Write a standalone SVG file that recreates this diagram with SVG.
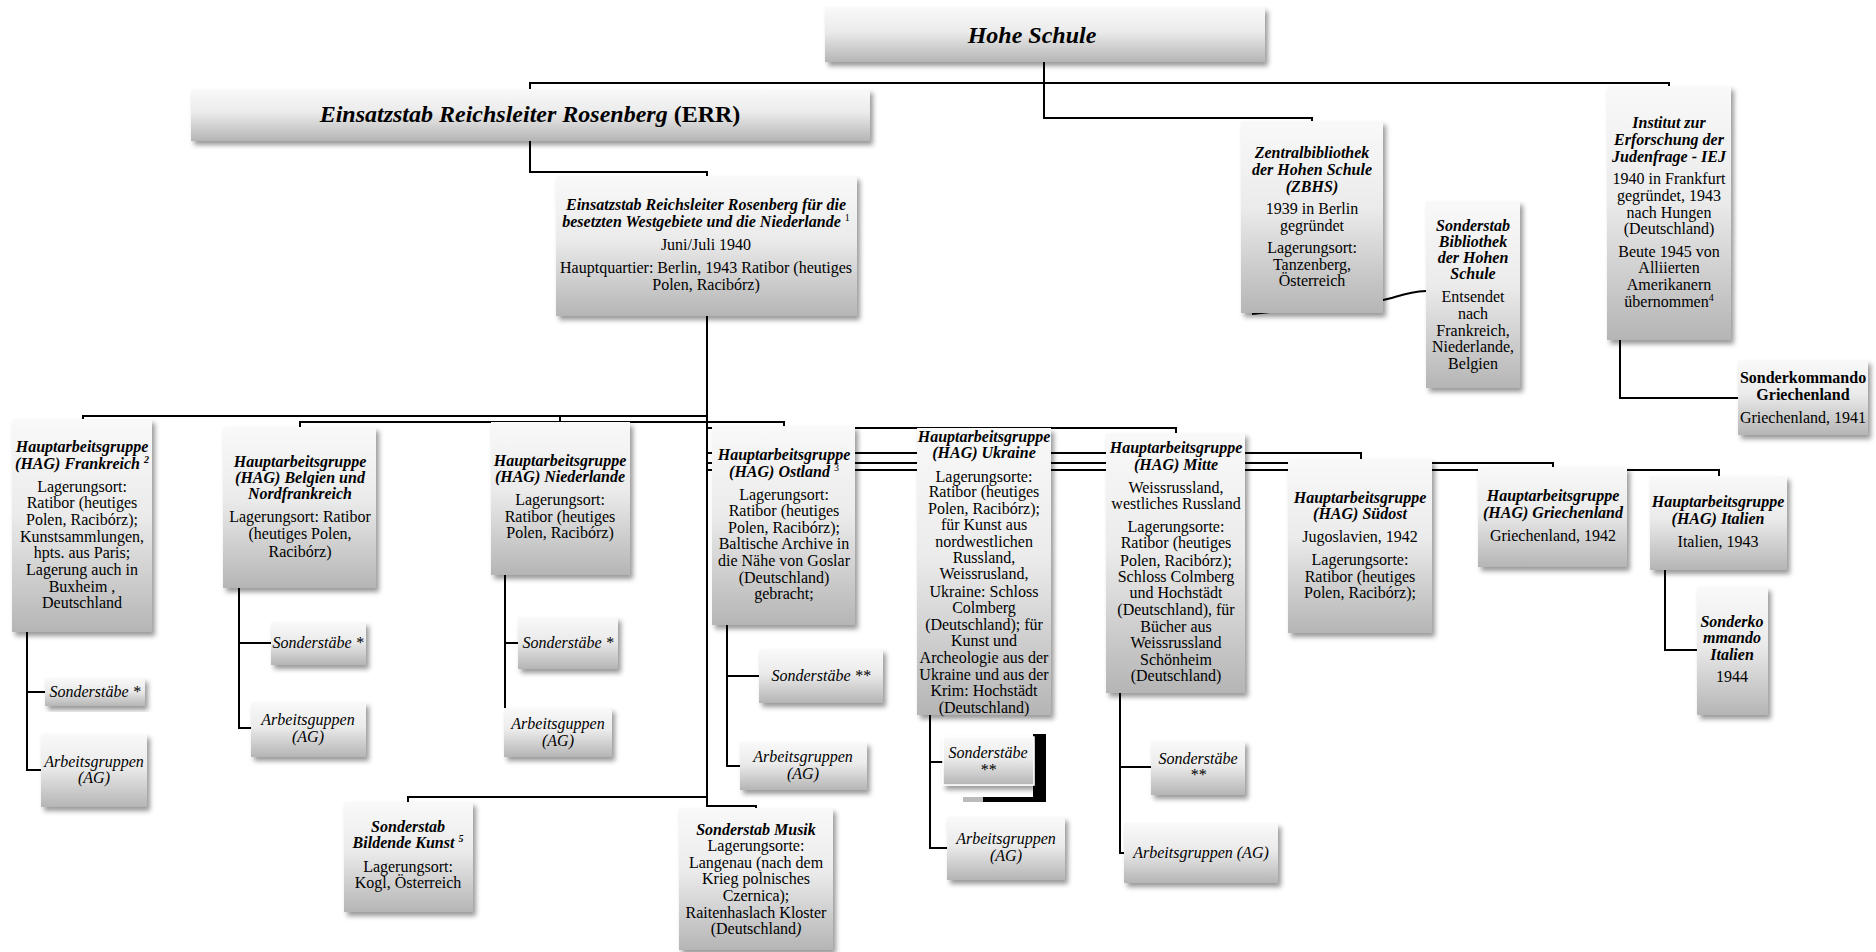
<svg xmlns="http://www.w3.org/2000/svg" width="1876" height="952" viewBox="0 0 1876 952">
<defs>
<linearGradient id="g" x1="0" y1="0" x2="0" y2="1">
<stop offset="0" stop-color="#f9f9f9"/>
<stop offset="0.45" stop-color="#ebebeb"/>
<stop offset="1" stop-color="#b5b5b5"/>
</linearGradient>
<filter id="sh" x="-10%" y="-10%" width="125%" height="130%">
<feDropShadow dx="3" dy="4" stdDeviation="2.5" flood-color="#000" flood-opacity="0.4"/>
</filter>
</defs>
<style>
rect.b{fill:url(#g);filter:url(#sh);}
text{font-family:"Liberation Serif","Times New Roman",serif;font-size:16px;text-anchor:middle;fill:#000;}
.t{font-weight:bold;font-style:italic;}
.bd{font-weight:bold;}
.i{font-style:italic;}
.sup{font-size:10px;}
#connectors path{fill:none;stroke:#000;stroke-width:2;}
</style>
<rect width="1876" height="952" fill="#fff"/>
<g id="connectors">
<path d="M1044,62 V118 H1312 V121"/>
<path d="M530,89 V83 H1669 V86"/>
<path d="M530,141 V172 H707 V176"/>
<path d="M707,316 V806 H756 V808"/>
<path d="M707,797 H408 V802"/>
<path d="M707,416 H83 V419"/>
<path d="M560,416 V422"/>
<path d="M784,426 V422 H300 V427"/>
<path d="M707,428 H1176 V433"/>
<path d="M707,453 H1361 V459"/>
<path d="M707,463 H1553 V467"/>
<path d="M707,470 H1719 V476"/>
<path d="M1426,291 C1405,292 1395,298 1383,300 L1270,312 L1252,314"/>
<path d="M1620,340 V398 H1738"/>
<path d="M1665,570 V650 H1697"/>
<path d="M27,632 V770 H41 M27,692 H45"/>
<path d="M239,588 V728 H251 M239,643 H271"/>
<path d="M505,575 V713 M505,643 H518"/>
<path d="M727,625 V766 H740 M727,676 H759"/>
<path d="M930,715 V848 H947 M930,762 H943"/>
<path d="M1120,693 V853 H1124 M1120,767 H1151"/>
</g>

<g id="hohe-schule">
<rect class="b" x="825" y="7" width="440" height="55"/>
<text class="t" x="1032" y="43" style="font-size:24px">Hohe Schule</text>
</g>

<g id="err">
<rect class="b" x="191" y="89" width="679" height="52"/>
<text x="530" y="122" style="font-size:24px"><tspan class="t">Einsatzstab Reichsleiter Rosenberg</tspan> <tspan class="bd">(ERR)</tspan></text>
</g>

<g id="err-west">
<rect class="b" x="556" y="176" width="301" height="140"/>
<text class="t" x="706" y="210">Einsatzstab Reichsleiter Rosenberg für die</text>
<text x="706" y="227"><tspan class="t">besetzten Westgebiete und die Niederlande</tspan> <tspan class="sup" dy="-6">1</tspan></text>
<text x="706" y="250">Juni/Juli 1940</text>
<text x="706" y="273">Hauptquartier: Berlin, 1943 Ratibor (heutiges</text>
<text x="706" y="290">Polen, Racibórz)</text>
</g>

<g id="zbhs">
<rect class="b" x="1241" y="121" width="142" height="192"/>
<text class="t" x="1312" y="158">Zentralbibliothek</text>
<text class="t" x="1312" y="175">der Hohen Schule</text>
<text class="t" x="1312" y="192">(ZBHS)</text>
<text x="1312" y="214">1939 in Berlin</text>
<text x="1312" y="231">gegründet</text>
<text x="1312" y="253">Lagerungsort:</text>
<text x="1312" y="270">Tanzenberg,</text>
<text x="1312" y="286">Österreich</text>
</g>

<g id="sonderstab-bibliothek">
<rect class="b" x="1426" y="201" width="94" height="187"/>
<text class="t" x="1473" y="231">Sonderstab</text>
<text class="t" x="1473" y="247">Bibliothek</text>
<text class="t" x="1473" y="263">der Hohen</text>
<text class="t" x="1473" y="279">Schule</text>
<text x="1473" y="302">Entsendet</text>
<text x="1473" y="319">nach</text>
<text x="1473" y="336">Frankreich,</text>
<text x="1473" y="352">Niederlande,</text>
<text x="1473" y="369">Belgien</text>
</g>

<g id="iej">
<rect class="b" x="1607" y="86" width="124" height="254"/>
<text class="t" x="1669" y="128">Institut zur</text>
<text class="t" x="1669" y="145">Erforschung der</text>
<text class="t" x="1669" y="162">Judenfrage - IEJ</text>
<text x="1669" y="184">1940 in Frankfurt</text>
<text x="1669" y="201">gegründet, 1943</text>
<text x="1669" y="218">nach Hungen</text>
<text x="1669" y="234">(Deutschland)</text>
<text x="1669" y="257">Beute 1945 von</text>
<text x="1669" y="273">Alliierten</text>
<text x="1669" y="290">Amerikanern</text>
<text x="1669" y="307">übernommen<tspan class="sup" dy="-6">4</tspan></text>
</g>

<g id="sk-griechenland">
<rect class="b" x="1738" y="360" width="130" height="75"/>
<text class="bd" x="1803" y="383">Sonderkommando</text>
<text class="bd" x="1803" y="400">Griechenland</text>
<text x="1803" y="423">Griechenland, 1941</text>
</g>

<g id="hag-frankreich">
<rect class="b" x="12" y="419" width="140" height="213"/>
<text class="t" x="82" y="452">Hauptarbeitsgruppe</text>
<text class="t" x="82" y="469">(HAG) Frankreich <tspan class="sup" dy="-6">2</tspan></text>
<text x="82" y="492">Lagerungsort:</text>
<text x="82" y="508">Ratibor (heutiges</text>
<text x="82" y="525">Polen, Racibórz);</text>
<text x="82" y="542">Kunstsammlungen,</text>
<text x="82" y="558">hpts. aus Paris;</text>
<text x="82" y="575">Lagerung auch in</text>
<text x="82" y="592">Buxheim ,</text>
<text x="82" y="608">Deutschland</text>
</g>
<g id="fr-sonderstaebe">
<rect class="b" x="45" y="678" width="100" height="28"/>
<text class="i" x="95" y="697">Sonderstäbe *</text>
</g>
<g id="fr-ag">
<rect class="b" x="41" y="734" width="106" height="73"/>
<text class="i" x="94" y="767">Arbeitsgruppen</text>
<text class="i" x="94" y="783">(AG)</text>
</g>

<g id="hag-belgien">
<rect class="b" x="223" y="427" width="153" height="161"/>
<text class="t" x="300" y="467">Hauptarbeitsgruppe</text>
<text class="t" x="300" y="483">(HAG) Belgien und</text>
<text class="t" x="300" y="499">Nordfrankreich</text>
<text x="300" y="522">Lagerungsort: Ratibor</text>
<text x="300" y="539">(heutiges Polen,</text>
<text x="300" y="557">Racibórz)</text>
</g>
<g id="be-sonderstaebe">
<rect class="b" x="271" y="622" width="95" height="43"/>
<text class="i" x="318" y="648">Sonderstäbe *</text>
</g>
<g id="be-ag">
<rect class="b" x="251" y="702" width="115" height="55"/>
<text class="i" x="308" y="725">Arbeitsguppen</text>
<text class="i" x="308" y="742">(AG)</text>
</g>

<g id="hag-niederlande">
<rect class="b" x="491" y="422" width="139" height="153"/>
<text class="t" x="560" y="466">Hauptarbeitsgruppe</text>
<text class="t" x="560" y="482">(HAG) Niederlande</text>
<text x="560" y="505">Lagerungsort:</text>
<text x="560" y="522">Ratibor (heutiges</text>
<text x="560" y="538">Polen, Racibórz)</text>
</g>
<g id="nl-sonderstaebe">
<rect class="b" x="518" y="617" width="100" height="52"/>
<text class="i" x="568" y="648">Sonderstäbe *</text>
</g>
<g id="nl-ag">
<rect class="b" x="504" y="708" width="108" height="49"/>
<text class="i" x="558" y="729">Arbeitsguppen</text>
<text class="i" x="558" y="746">(AG)</text>
</g>

<g id="hag-ostland">
<rect class="b" x="712" y="426" width="143" height="199"/>
<text class="t" x="784" y="460">Hauptarbeitsgruppe</text>
<text x="784" y="477"><tspan class="t">(HAG) Ostland</tspan> <tspan class="sup" dy="-6">3</tspan></text>
<text x="784" y="500">Lagerungsort:</text>
<text x="784" y="516">Ratibor (heutiges</text>
<text x="784" y="533">Polen, Racibórz);</text>
<text x="784" y="549">Baltische Archive in</text>
<text x="784" y="566">die Nähe von Goslar</text>
<text x="784" y="583">(Deutschland)</text>
<text x="784" y="599">gebracht;</text>
</g>
<g id="os-sonderstaebe">
<rect class="b" x="759" y="649" width="124" height="54"/>
<text class="i" x="821" y="681">Sonderstäbe **</text>
</g>
<g id="os-ag">
<rect class="b" x="740" y="742" width="127" height="48"/>
<text class="i" x="803" y="762">Arbeitsgruppen</text>
<text class="i" x="803" y="779">(AG)</text>
</g>

<g id="hag-ukraine">
<rect class="b" x="917" y="428" width="134" height="287"/>
<text class="t" x="984" y="442">Hauptarbeitsgruppe</text>
<text class="t" x="984" y="458">(HAG) Ukraine</text>
<text x="984" y="482">Lagerungsorte:</text>
<text x="984" y="497">Ratibor (heutiges</text>
<text x="984" y="514">Polen, Racibórz);</text>
<text x="984" y="530">für Kunst aus</text>
<text x="984" y="547">nordwestlichen</text>
<text x="984" y="563">Russland,</text>
<text x="984" y="579">Weissrusland,</text>
<text x="984" y="597">Ukraine: Schloss</text>
<text x="984" y="613">Colmberg</text>
<text x="984" y="630">(Deutschland); für</text>
<text x="984" y="646">Kunst und</text>
<text x="984" y="663">Archeologie aus der</text>
<text x="984" y="680">Ukraine und aus der</text>
<text x="984" y="696">Krim: Hochstädt</text>
<text x="984" y="713">(Deutschland)</text>
</g>
<g id="uk-sonderstaebe">
<rect x="1033" y="734" width="13" height="68" fill="#000"/>
<rect x="983" y="797" width="63" height="5" fill="#000"/>
<rect x="963" y="797" width="20" height="5" fill="#bbb"/>
<rect class="b" x="943" y="737" width="91" height="48" stroke="#fff" stroke-width="1.5"/>
<text class="i" x="988" y="758">Sonderstäbe</text>
<text class="i" x="988" y="775">**</text>
</g>
<g id="uk-ag">
<rect class="b" x="947" y="817" width="118" height="63"/>
<text class="i" x="1006" y="844">Arbeitsgruppen</text>
<text class="i" x="1006" y="861">(AG)</text>
</g>

<g id="hag-mitte">
<rect class="b" x="1106" y="433" width="139" height="260"/>
<text class="t" x="1176" y="453">Hauptarbeitsgruppe</text>
<text class="t" x="1176" y="470">(HAG) Mitte</text>
<text x="1176" y="493">Weissrussland,</text>
<text x="1176" y="509">westliches Russland</text>
<text x="1176" y="532">Lagerungsorte:</text>
<text x="1176" y="548">Ratibor (heutiges</text>
<text x="1176" y="566">Polen, Racibórz);</text>
<text x="1176" y="582">Schloss Colmberg</text>
<text x="1176" y="598">und Hochstädt</text>
<text x="1176" y="615">(Deutschland), für</text>
<text x="1176" y="632">Bücher aus</text>
<text x="1176" y="648">Weissrussland</text>
<text x="1176" y="665">Schönheim</text>
<text x="1176" y="681">(Deutschland)</text>
</g>
<g id="mi-sonderstaebe">
<rect class="b" x="1151" y="741" width="94" height="54"/>
<text class="i" x="1198" y="764">Sonderstäbe</text>
<text class="i" x="1198" y="780">**</text>
</g>
<g id="mi-ag">
<rect class="b" x="1124" y="823" width="154" height="60"/>
<text class="i" x="1201" y="858">Arbeitsgruppen (AG)</text>
</g>

<g id="hag-suedost">
<rect class="b" x="1288" y="459" width="144" height="174"/>
<text class="t" x="1360" y="503">Hauptarbeitsgruppe</text>
<text class="t" x="1360" y="519">(HAG) Südost</text>
<text x="1360" y="542">Jugoslavien, 1942</text>
<text x="1360" y="565">Lagerungsorte:</text>
<text x="1360" y="582">Ratibor (heutiges</text>
<text x="1360" y="598">Polen, Racibórz);</text>
</g>

<g id="hag-griechenland">
<rect class="b" x="1478" y="467" width="149" height="100"/>
<text class="t" x="1553" y="501">Hauptarbeitsgruppe</text>
<text class="t" x="1553" y="518">(HAG) Griechenland</text>
<text x="1553" y="541">Griechenland, 1942</text>
</g>

<g id="hag-italien">
<rect class="b" x="1650" y="476" width="137" height="94"/>
<text class="t" x="1718" y="507">Hauptarbeitsgruppe</text>
<text class="t" x="1718" y="524">(HAG) Italien</text>
<text x="1718" y="547">Italien, 1943</text>
</g>

<g id="sk-italien">
<rect class="b" x="1697" y="587" width="71" height="128"/>
<text class="t" x="1732" y="627">Sonderko</text>
<text class="t" x="1732" y="643">mmando</text>
<text class="t" x="1732" y="660">Italien</text>
<text x="1732" y="682">1944</text>
</g>

<g id="sonderstab-bildende-kunst">
<rect class="b" x="344" y="802" width="129" height="110"/>
<text class="t" x="408" y="832">Sonderstab</text>
<text x="408" y="848"><tspan class="t">Bildende Kunst</tspan> <tspan class="t sup" dy="-6">5</tspan></text>
<text x="408" y="872">Lagerungsort:</text>
<text x="408" y="888">Kogl, Österreich</text>
</g>

<g id="sonderstab-musik">
<rect class="b" x="679" y="808" width="154" height="142"/>
<text class="t" x="756" y="835">Sonderstab Musik</text>
<text x="756" y="851">Lagerungsorte:</text>
<text x="756" y="868">Langenau (nach dem</text>
<text x="756" y="884">Krieg polnisches</text>
<text x="756" y="901">Czernica);</text>
<text x="756" y="918">Raitenhaslach Kloster</text>
<text x="756" y="934">(Deutschland<tspan class="i">)</tspan></text>
</g>
</svg>
